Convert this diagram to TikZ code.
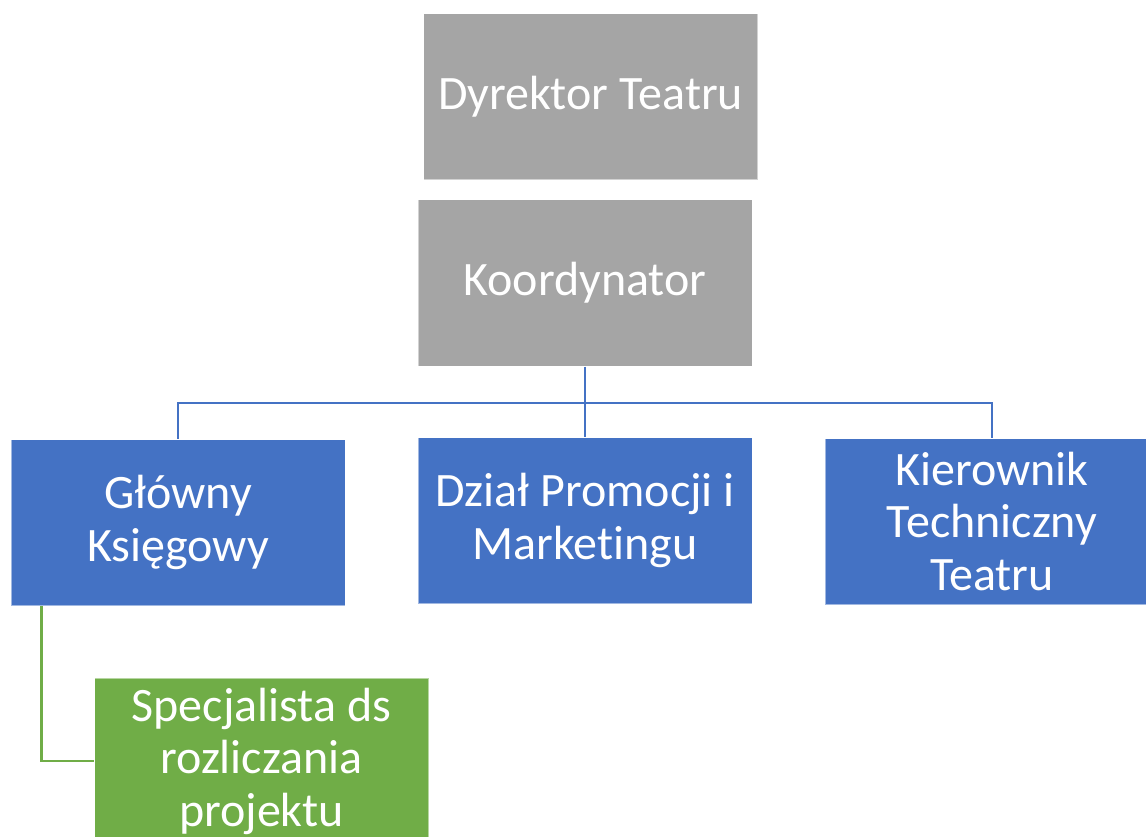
\documentclass[tikz,border=0pt]{standalone}
\usepackage{fontspec}
\setmainfont{Carlito}[Ligatures=NoCommon]
\definecolor{boxgray}{HTML}{A5A5A5}
\definecolor{boxblue}{HTML}{4472C4}
\definecolor{boxgreen}{HTML}{70AD47}
\tikzset{
  BoxStyle/.style = { rectangle, minimum width = 334pt, minimum height = 166pt,
                      inner sep = 0pt, align = center, text = white,
                      draw = white, draw opacity = 0.5, line width = 1pt,
                      font = \fontsize{48}{52.5}\selectfont },
  GrayBox/.style  = { BoxStyle, fill = boxgray },
  BlueBox/.style  = { BoxStyle, fill = boxblue },
  GreenBox/.style = { BoxStyle, fill = boxgreen },
  LinkStyle/.style = { line width = 2.5pt, draw = boxblue } }

\begin{document}
\begin{tikzpicture}[x=1pt,y=-1pt]
  \useasboundingbox (0,0) rectangle (1146,837);

  \node[GrayBox] (dyrektor) at (590.5,97) {Dyrektor Teatru};
  \node[GrayBox] (koord) at (585,283) {Koordynator};

  \node[BlueBox] (glowny) at (178,522.5) {Główny\\Księgowy};
  \node[BlueBox] (dzial) at (585,520.5) {Dział Promocji i\\Marketingu};
  \node[BlueBox] (kier) at (992,521.5) {Kierownik\\Techniczny\\Teatru};

  \node[GreenBox] (spec) at (261.5,761) {Specjalista ds\\rozliczania\\projektu};

  \coordinate (bus) at (585,403);
  \draw[LinkStyle] (koord.south) -- (bus) -| (glowny.north);
  \draw[LinkStyle] (bus) -| (kier.north);
  \draw[LinkStyle] (bus) -- (dzial.north);

  \draw[LinkStyle, draw = boxgreen] ([xshift=31pt]glowny.south west) |- (spec.west);
\end{tikzpicture}
\end{document}
